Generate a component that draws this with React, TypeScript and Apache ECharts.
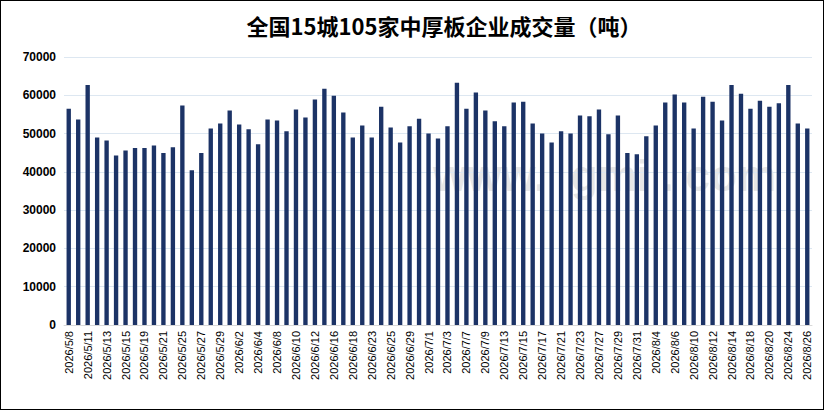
import { useEffect, useRef } from "react";
import * as echarts from "echarts";

const dates = [
  "2026/5/8", "2026/5/9", "2026/5/11", "2026/5/12", "2026/5/13", "2026/5/14", "2026/5/15",
  "2026/5/18", "2026/5/19", "2026/5/20", "2026/5/21", "2026/5/22",
  "2026/5/25", "2026/5/26", "2026/5/27", "2026/5/28", "2026/5/29",
  "2026/6/1", "2026/6/2", "2026/6/3", "2026/6/4", "2026/6/5",
  "2026/6/8", "2026/6/9", "2026/6/10", "2026/6/11", "2026/6/12",
  "2026/6/15", "2026/6/16", "2026/6/17", "2026/6/18",
  "2026/6/22", "2026/6/23", "2026/6/24", "2026/6/25", "2026/6/26",
  "2026/6/29", "2026/6/30", "2026/7/1", "2026/7/2", "2026/7/3",
  "2026/7/6", "2026/7/7", "2026/7/8", "2026/7/9", "2026/7/10",
  "2026/7/13", "2026/7/14", "2026/7/15", "2026/7/16", "2026/7/17",
  "2026/7/20", "2026/7/21", "2026/7/22", "2026/7/23", "2026/7/24",
  "2026/7/27", "2026/7/28", "2026/7/29", "2026/7/30", "2026/7/31",
  "2026/8/3", "2026/8/4", "2026/8/5", "2026/8/6", "2026/8/7",
  "2026/8/10", "2026/8/11", "2026/8/12", "2026/8/13", "2026/8/14",
  "2026/8/17", "2026/8/18", "2026/8/19", "2026/8/20", "2026/8/21",
  "2026/8/24", "2026/8/25", "2026/8/26",
];

const volumes = [
  56500, 53700, 62700, 49000, 48200, 44300, 45600,
  46200, 46200, 46900, 44900, 46400,
  57300, 40400, 44900, 51300, 52600,
  56000, 52400, 51100, 47200, 53700,
  53400, 50600, 56300, 54200, 58900,
  61700, 59900, 55500, 49000,
  52100, 49000, 57000, 51600, 47700,
  51900, 53900, 50000, 48700, 51900,
  63300, 56500, 60700, 56000, 53200,
  51900, 58100, 58300, 52600, 50000,
  47700, 50600, 50000, 54700, 54500,
  56300, 49800, 54700, 44900, 44600,
  49300, 52100, 58100, 60200, 58100,
  51300, 59600, 58300, 53400, 62700,
  60400, 56500, 58600, 57000, 57900,
  62700, 52600, 51300,
];

const title = "全国15城105家中厚板企业成交量（吨）";

export default function App() {
  const chartRef = useRef<HTMLDivElement>(null);

  useEffect(() => {
    document.body.style.margin = "0";
    if (!chartRef.current) return;
    const chart = echarts.init(chartRef.current, undefined, { renderer: "svg" });
    chart.setOption({
      animation: false,
      backgroundColor: "#ffffff",
      title: {
        text: title,
        left: 438,
        top: 8,
        textAlign: "center",
        textStyle: {
          fontFamily: '"Noto Sans CJK SC", sans-serif',
          fontSize: 22,
          fontWeight: "bold",
          color: "#000",
        },
      },
      graphic: [
        {
          type: "text",
          left: 432,
          top: 152,
          silent: true,
          z: -1,
          style: {
            text: "www.  gmi . com",
            fontFamily: "Arial, sans-serif",
            fontSize: 44,
            fontWeight: "bold",
            fill: "rgba(170,170,170,0.3)",
          },
        },
      ],
      grid: { left: 63, right: 11, top: 56, bottom: 84 },
      xAxis: {
        type: "category",
        data: dates,
        axisLine: { lineStyle: { color: "#d9d9d9" } },
        axisTick: { lineStyle: { color: "#d9d9d9" } },
        axisLabel: {
          interval: 1,
          rotate: 90,
          fontSize: 11,
          color: "#000",
          fontFamily: "Arial, sans-serif",
          margin: 6,
        },
      },
      yAxis: {
        type: "value",
        min: 0,
        max: 70000,
        interval: 10000,
        axisLine: { show: false },
        axisTick: { show: false },
        splitLine: { lineStyle: { color: "#dde7f1" } },
        axisLabel: {
          fontSize: 12,
          color: "#000",
          fontWeight: "bold",
          fontFamily: "Arial, sans-serif",
          margin: 8,
          formatter: (v: number) => String(v),
        },
      },
      series: [
        {
          name: "成交量",
          type: "bar",
          data: volumes,
          barWidth: "46%",
          itemStyle: { color: "#1c3366" },
        },
      ],
    });
    return () => chart.dispose();
  }, []);

  return (
    <div
      style={{
        position: "absolute",
        left: 0,
        top: 0,
        width: 824,
        height: 410,
        boxSizing: "border-box",
        border: "1px solid #000",
      }}
    >
      <div ref={chartRef} style={{ width: 822, height: 408 }} />
    </div>
  );
}
